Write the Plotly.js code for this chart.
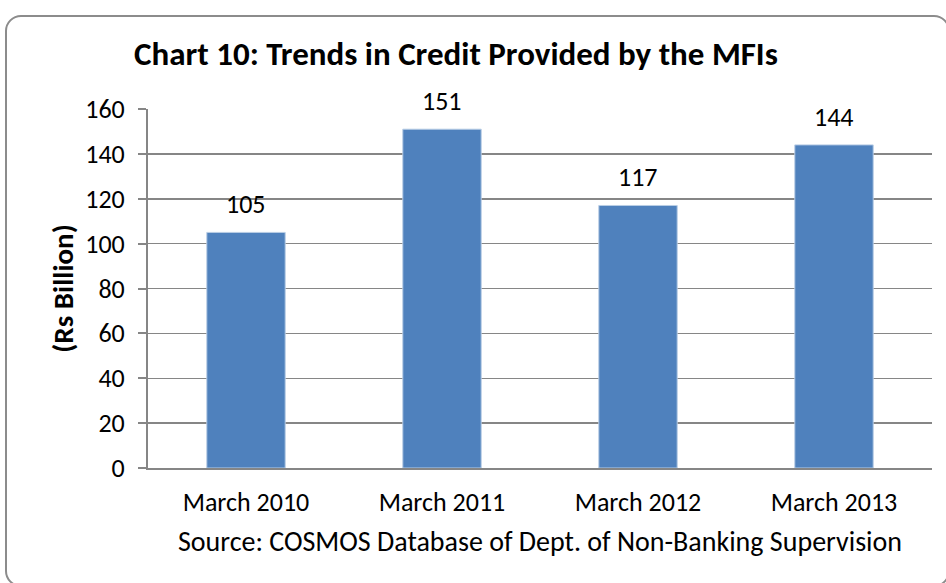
<!DOCTYPE html>
<html>
<head>
<meta charset="utf-8">
<script src="https://cdn.plot.ly/plotly-3.0.1.min.js"></script>
<style>
  body { margin: 0; background: #fff; }
  #frame {
    position: absolute; left: 5px; top: 15px; width: 945px; height: 572px;
    border: 2px solid #8c8c8c; border-radius: 16px; box-sizing: border-box;
  }
  #chart { position: absolute; left: 0; top: 0; width: 946px; height: 583px; }
</style>
</head>
<body>
<div id="frame"></div>
<div id="chart"></div>
<script>
// values (Rs Billion)
const periods = ["March 2010", "March 2011", "March 2012", "March 2013"];
const credit = [105, 151, 117, 144];
const yTicks = [0, 20, 40, 60, 80, 100, 120, 140, 160];

const font = "Carlito, 'Open Sans', 'Liberation Sans', sans-serif";

const trace = {
    type: "bar",
    x: periods,
    y: credit,
    marker: { color: "#4f81bd", line: { color: "#b9cde5", width: 1 } },
    hoverinfo: "none"
};

// value labels sit a fixed distance above each bar, as in the original
const labels = periods.map((p, i) => ({
    x: p, y: credit[i], xref: "x", yref: "y",
    text: String(credit[i]),
    showarrow: false, yanchor: "middle", yshift: 28,
    font: { family: font, size: 26, color: "#000" }
}));

const layout = {
    width: 946,
    height: 583,
    margin: { l: 148, r: 14, t: 109, b: 115 },
    paper_bgcolor: "rgba(0,0,0,0)",
    plot_bgcolor: "rgba(0,0,0,0)",
    bargap: 0.6,
    showlegend: false,
    font: { family: font, color: "#000" },
    annotations: labels,
    title: {
        text: "<b>Chart 10: Trends in Credit Provided by the MFIs</b>",
        font: { family: font, size: 33, color: "#000" },
        x: 0.482, xanchor: "center", y: 0.908, yanchor: "middle"
    },
    xaxis: {
        type: "category",
        showline: true, linecolor: "#868686", linewidth: 2,
        ticks: "", tickfont: { size: 26 }, ticklabelstandoff: 10,
        title: {
            text: "Source: COSMOS Database of Dept. of Non-Banking Supervision",
            font: { size: 28 }, standoff: 14
        }
    },
    yaxis: {
        range: [0, 160],
        tickvals: yTicks,
        ticks: "outside", ticklen: 8, tickcolor: "#868686", tickwidth: 2,
        ticklabelstandoff: 8,
        showline: true, linecolor: "#868686", linewidth: 2,
        gridcolor: "#868686", gridwidth: 1.5,
        zeroline: false,
        tickfont: { size: 26 },
        title: { text: "<b>(Rs Billion)</b>", font: { size: 29 }, standoff: 3 }
    }
};

Plotly.newPlot("chart", [trace], layout, { displayModeBar: false, staticPlot: true });
</script>
</body>
</html>
